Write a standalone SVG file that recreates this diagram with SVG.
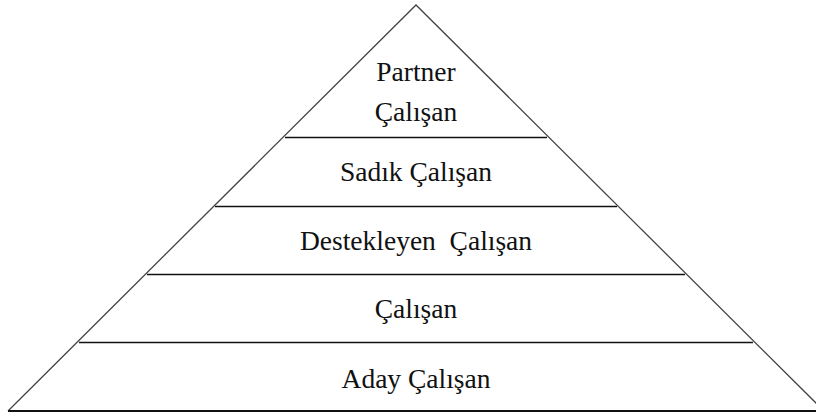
<svg xmlns="http://www.w3.org/2000/svg" width="816" height="414" viewBox="0 0 816 414">
<style>
.ln{stroke:#444;stroke-width:1.3;fill:none}
.hl{stroke:#111;stroke-width:1.6}
.t{font-family:"Liberation Serif",serif;font-size:27.5px;fill:#111;text-anchor:middle}
</style>
<rect width="816" height="414" fill="#fff"/>
<g id="connectors">
<polyline class="ln" points="8,411 416,5 824,411"/>
<line class="hl" x1="285" y1="137.5" x2="547" y2="137.5"/>
<line class="hl" x1="215" y1="206.5" x2="617" y2="206.5"/>
<line class="hl" x1="147" y1="274.5" x2="685" y2="274.5"/>
<line class="hl" x1="79" y1="342.5" x2="753" y2="342.5"/>
<line x1="8" y1="411" x2="816" y2="411" stroke="#111" stroke-width="2"/>
</g>
<g id="partner"><text class="t" x="416" y="81">Partner</text><text class="t" x="416" y="121">Çalışan</text></g>
<g id="sadik"><text class="t" x="416" y="181">Sadık Çalışan</text></g>
<g id="destekleyen"><text class="t" x="416" y="250" xml:space="preserve">Destekleyen  Çalışan</text></g>
<g id="calisan"><text class="t" x="416" y="318">Çalışan</text></g>
<g id="aday"><text class="t" x="416" y="388">Aday Çalışan</text></g>
</svg>
